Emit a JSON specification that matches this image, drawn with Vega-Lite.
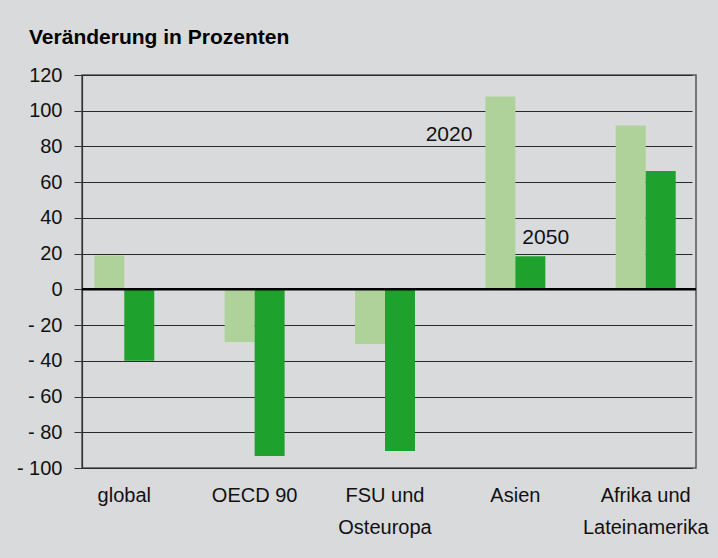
{
  "$schema": "https://vega.github.io/schema/vega-lite/v6.json",
  "width": 614,
  "height": 393,
  "autosize": {"type": "none"},
  "padding": {"left": 82, "top": 75, "right": 22, "bottom": 90},
  "background": "#d9dadc",
  "title": {
    "text": "Veränderung in Prozenten",
    "anchor": "start",
    "frame": "group",
    "dx": -53,
    "font": "Liberation Sans",
    "fontWeight": "bold",
    "fontSize": 21,
    "color": "#000000",
    "baseline": "alphabetic",
    "offset": 0
  },
  "config": {
    "view": {"stroke": "#555555", "strokeWidth": 1.5},
    "font": "Liberation Sans"
  },
  "layer": [
    {
      "data": {
        "values": [
          {"Region": "global", "Jahr": "2020", "Wert": 19},
          {"Region": "global", "Jahr": "2050", "Wert": -40},
          {"Region": "OECD 90", "Jahr": "2020", "Wert": -29.5},
          {"Region": "OECD 90", "Jahr": "2050", "Wert": -93.3},
          {"Region": "FSU und Osteuropa", "Jahr": "2020", "Wert": -30.6},
          {"Region": "FSU und Osteuropa", "Jahr": "2050", "Wert": -90.5},
          {"Region": "Asien", "Jahr": "2020", "Wert": 108},
          {"Region": "Asien", "Jahr": "2050", "Wert": 18.5},
          {"Region": "Afrika und Lateinamerika", "Jahr": "2020", "Wert": 91.8},
          {"Region": "Afrika und Lateinamerika", "Jahr": "2050", "Wert": 66.2}
        ]
      },
      "mark": {"type": "bar"},
      "encoding": {
        "x": {
          "field": "Region",
          "type": "nominal",
          "scale": {
            "domain": ["global", "OECD 90", "FSU und Osteuropa", "Asien", "Afrika und Lateinamerika"],
            "paddingInner": 0.54,
            "paddingOuter": 0.125,
            "range": [-4, 610]
          },
          "axis": {
            "title": null,
            "ticks": false,
            "domain": false,
            "labelAngle": 0,
            "labelOverlap": false,
            "labelFont": "Liberation Sans",
            "labelFontSize": 20,
            "labelColor": "#111111",
            "labelPadding": 17,
            "labelLineHeight": 32,
            "labelExpr": "datum.value == 'FSU und Osteuropa' ? ['FSU und', 'Osteuropa'] : datum.value == 'Afrika und Lateinamerika' ? ['Afrika und', 'Lateinamerika'] : datum.value"
          }
        },
        "xOffset": {"field": "Jahr", "type": "nominal", "scale": {"domain": ["2020", "2050"], "paddingInner": 0, "paddingOuter": 0}},
        "y": {
          "field": "Wert",
          "type": "quantitative",
          "scale": {"domain": [-100, 120], "nice": false},
          "axis": {
            "title": null,
            "values": [-100, -80, -60, -40, -20, 0, 20, 40, 60, 80, 100, 120],
            "tickCount": 12,
            "labelOverlap": false,
            "grid": true,
            "gridColor": "#2a2a2a",
            "gridWidth": 1,
            "gridOpacity": 1,
            "domainColor": "#333333",
            "domainWidth": 1.2,
            "tickColor": "#333333",
            "tickSize": 8,
            "tickWidth": 1,
            "labelPadding": 12,
            "labelFont": "Liberation Sans",
            "labelFontSize": 20,
            "labelColor": "#111111",
            "labelExpr": "datum.value < 0 ? '- ' + format(-datum.value, 'd') : format(datum.value, 'd')"
          }
        },
        "color": {
          "field": "Jahr",
          "type": "nominal",
          "scale": {"domain": ["2020", "2050"], "range": ["#afd29a", "#1fa12e"]},
          "legend": null
        }
      }
    },
    {
      "data": {"values": [{}]},
      "mark": {"type": "rule", "color": "#000000", "strokeWidth": 2.5},
      "encoding": {"y": {"datum": 0}}
    },
    {
      "data": {"values": [{"Region": "Asien", "Jahr": "2020"}]},
      "mark": {"type": "text", "align": "right", "baseline": "alphabetic", "dx": -28, "fontSize": 21, "font": "Liberation Sans", "color": "#111111"},
      "encoding": {
        "x": {"field": "Region", "type": "nominal"},
        "xOffset": {"field": "Jahr", "type": "nominal"},
        "y": {"datum": 83},
        "text": {"field": "Jahr"}
      }
    },
    {
      "data": {"values": [{"Region": "Asien", "Jahr": "2050"}]},
      "mark": {"type": "text", "align": "left", "baseline": "alphabetic", "dx": -8, "fontSize": 21, "font": "Liberation Sans", "color": "#111111"},
      "encoding": {
        "x": {"field": "Region", "type": "nominal"},
        "xOffset": {"field": "Jahr", "type": "nominal"},
        "y": {"datum": 25.5},
        "text": {"field": "Jahr"}
      }
    }
  ]
}
